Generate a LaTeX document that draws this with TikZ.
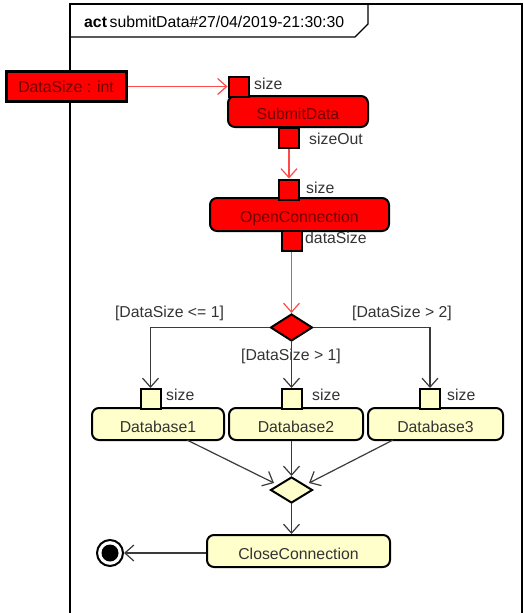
\documentclass[tikz,border=0pt]{standalone}
\usepackage{fontspec}
\setmainfont{Liberation Sans}
\usetikzlibrary{shapes.geometric,arrows.meta,calc}
\definecolor{actred}{HTML}{FF0000}
\definecolor{redtext}{HTML}{700000}
\definecolor{redline}{HTML}{FF4848}
\definecolor{ylw}{HTML}{FFFFCC}
\definecolor{graytext}{HTML}{333333}
\definecolor{grayline}{HTML}{3A3A3A}
\tikzset{
  every node/.style={font=\fontsize{15.8}{18}\selectfont, inner sep=0pt},
  lowtext/.style={text height=16.5pt, text depth=0pt},
  redact/.style={draw=black, line width=2pt, fill=actred, rounded corners=7pt, text=redtext, lowtext},
  ylwact/.style={draw=black, line width=2pt, fill=ylw, rounded corners=7pt, text=graytext, lowtext},
  redpin/.style={draw=black, line width=2pt, fill=actred, minimum width=20pt, minimum height=20pt},
  ylwpin/.style={draw=black, line width=2pt, fill=ylw, minimum width=20pt, minimum height=20pt},
  pinlabel/.style={text=graytext, anchor=west},
  guard/.style={text=graytext},
  redflow/.style={draw=redline, line width=1.2pt, -{Straight Barb[length=9pt,width=16pt]}},
  grayflow/.style={draw=grayline, line width=1.2pt, -{Straight Barb[length=9pt,width=16pt]}},
  framestyle/.style={draw=black, line width=1.3pt},
}
\begin{document}
\begin{tikzpicture}[x=1pt,y=-1pt]
\useasboundingbox (0,0) rectangle (524,613);
% frame
\draw[framestyle] (70,613) -- (70,4) -- (522,4) -- (522,613);
\draw[framestyle] (70,37) -- (355,37) -- (368,24) -- (368,4);
\node[anchor=west] (title) at (84,22) {\textbf{act}\,submitData\#27/04/2019-21:30:30};
% object node
\node[draw=black, line width=3pt, fill=actred, text=redtext, minimum width=120pt, minimum height=30pt] (ds) at (66,86.5) {DataSize : int};
% SubmitData
\node[redact, minimum width=140pt, minimum height=31pt] (submit) at (298,111.5) {SubmitData};
\node[redpin] (sin) at (238.5,86.5) {};
\node[pinlabel] (sinl) at (254,84) {size};
\node[redpin] (sout) at (289,137.5) {};
\node[pinlabel] (soutl) at (309,139) {sizeOut};
% OpenConnection
\node[redact, minimum width=179pt, minimum height=33pt] (open) at (299.5,214.5) {OpenConnection};
\node[redpin] (oin) at (289,189.5) {};
\node[pinlabel] (oinl) at (306,188) {size};
\node[redpin] (oout) at (291.5,240.5) {};
\node[pinlabel] (ooutl) at (305,238) {dataSize};
% decision
\node[diamond, draw=black, line width=2pt, fill=actred, minimum width=42pt, minimum height=27pt] (dec) at (291.5,327.5) {};
% databases
\node[ylwact, minimum width=132pt, minimum height=32pt] (db1) at (158,424) {Database1};
\node[ylwact, minimum width=134pt, minimum height=32pt] (db2) at (296,424) {Database2};
\node[ylwact, minimum width=135pt, minimum height=32pt] (db3) at (435.5,424) {Database3};
\node[ylwpin] (p1) at (150.5,399) {};
\node[ylwpin] (p2) at (291.5,399) {};
\node[ylwpin] (p3) at (430,399) {};
\node[pinlabel] (p1l) at (166,395) {size};
\node[pinlabel] (p2l) at (312,395) {size};
\node[pinlabel] (p3l) at (447,395) {size};
% guards
\node[guard] (g1) at (169.5,313) {[DataSize <= 1]};
\node[guard] (g2) at (291,356) {[DataSize > 1]};
\node[guard] (g3) at (402,313) {[DataSize > 2]};
% merge
\node[diamond, draw=black, line width=2pt, fill=ylw, minimum width=42pt, minimum height=26pt] (merge) at (291.5,490) {};
% close
\node[ylwact, minimum width=183pt, minimum height=32pt] (close) at (298.5,551) {CloseConnection};
% final
\node[circle, draw=black, line width=2pt, minimum size=26pt] (final) at (110,553) {};
\node[circle, fill=black, minimum size=17pt] (finalin) at (110,553) {};
% coordinates
\coordinate (d1) at (187,440);
\coordinate (d1e) at (274,483);
\coordinate (d3) at (393,440);
\coordinate (d3e) at (309,483);
% flows
\draw[redflow] (ds.east) -- (sin.west);
\draw[redflow] (sout.south) -- (oin.north);
\draw[redflow] (oout.south) -- (dec.north);
\draw[grayflow] (dec.west) -| (p1.north);
\draw[grayflow] (dec.south) -- (p2.north);
\draw[grayflow] (dec.east) -| (p3.north);
\draw[grayflow] (d1) -- (d1e);
\draw[grayflow] (db2.south -| merge.north) -- (merge.north);
\draw[grayflow] (d3) -- (d3e);
\draw[grayflow] (merge.south) -- (merge.south |- close.north);
\draw[grayflow] (close.west |- final.east) -- (final.east);
\end{tikzpicture}
\end{document}
